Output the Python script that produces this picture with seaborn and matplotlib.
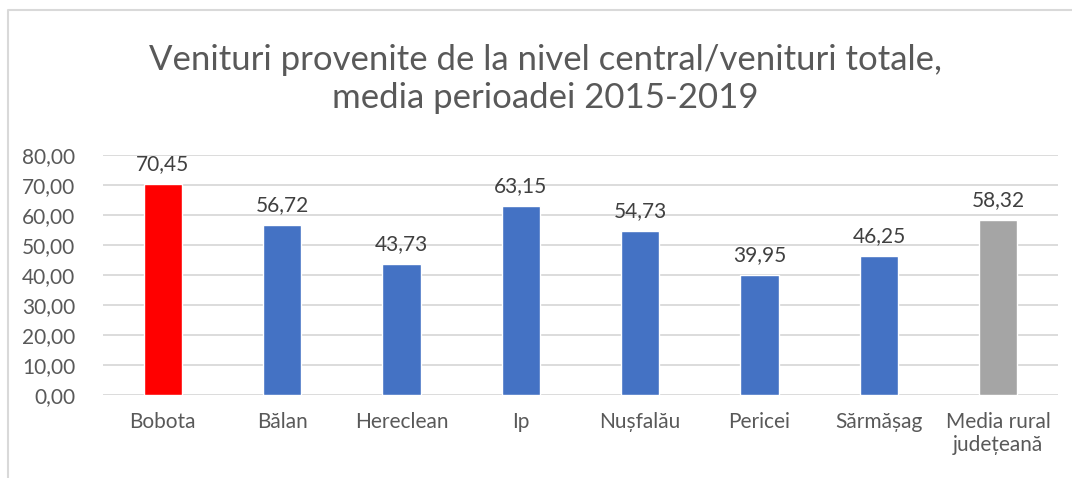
import matplotlib
matplotlib.use("Agg")
import matplotlib.pyplot as plt
import seaborn as sns
import pandas as pd
from matplotlib.lines import Line2D

categories = ["Bobota", "Bălan", "Hereclean", "Ip", "Nușfalău", "Pericei", "Sărmășag", "Media rural\njudețeană"]
values = [70.45, 56.72, 43.73, 63.15, 54.73, 39.95, 46.25, 58.32]
colors = ["#FF0000", "#4472C4", "#4472C4", "#4472C4", "#4472C4", "#4472C4", "#4472C4", "#A5A5A5"]
yticks = [0, 10, 20, 30, 40, 50, 60, 70, 80]
title = "Venituri provenite de la nivel central/venituri totale,\nmedia perioadei 2015-2019"

sns.set_theme(style="white")
plt.rcParams['font.family'] = ['Lato', 'DejaVu Sans']

df = pd.DataFrame({"cat": categories, "val": values})

fig = plt.figure(figsize=(10.72, 4.78), dpi=100)
ax = fig.add_axes([103/1072, 1 - 395/478, (1058 - 103)/1072, (395 - 155)/478])

sns.barplot(data=df, x="cat", y="val", hue="cat", palette=colors, legend=False,
            width=0.32, saturation=1, ax=ax, zorder=3)

ax.set_ylim(0, 80)
ax.set_xlim(-0.5, len(categories) - 0.5)
ax.set_yticks(yticks)
ax.set_yticklabels([f"{v:.2f}".replace(".", ",") for v in yticks])
ax.yaxis.grid(True, color="#D9D9D9", linewidth=1.3, zorder=0)
ax.set_axisbelow(True)
for s in ax.spines.values():
    s.set_visible(False)
ax.set_xlabel("")
ax.set_ylabel("")
ax.tick_params(axis="y", length=0, pad=20, labelsize=15, labelcolor="#595959")
ax.tick_params(axis="x", length=0, pad=12, labelsize=15, labelcolor="#595959")

for i, v in enumerate(values):
    ax.annotate(f"{v:.2f}".replace(".", ","), (i, v), xytext=(0, 7), textcoords="offset points",
                ha="center", va="bottom", fontsize=15, color="#404040")

fig.text(0.509, 1 - 79/478, title, ha="center", va="center", fontsize=25,
         color="#595959", linespacing=1.2)

# chart frame (left and top edges visible)
fig.add_artist(Line2D([8/1072, 8/1072, 1.0], [0.0, 1 - 10/478, 1 - 10/478],
                      transform=fig.transFigure, color="#D9D9D9", linewidth=1.5))

fig.savefig("out.png", dpi=100)
